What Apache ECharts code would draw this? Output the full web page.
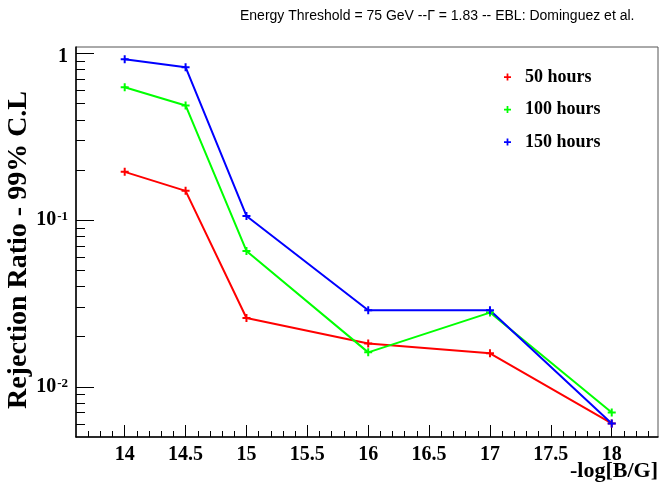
<!DOCTYPE html>
<html>
<head>
<meta charset="utf-8">
<script src="https://cdn.jsdelivr.net/npm/echarts@6/dist/echarts.min.js"></script>
<style>
  html, body { margin: 0; padding: 0; background: #fff; }
  #chart { width: 660px; height: 490px; }
</style>
</head>
<body>
<div id="chart"></div>
<script>
// -log[B/G] values at which the rejection ratio was evaluated
const magneticField = [14, 14.5, 15, 16, 17, 18];

// Rejection ratio at 99% C.L. for each observation time
const hours50  = [0.195, 0.150, 0.0259, 0.0182, 0.0159, 0.00603];
const hours100 = [0.628, 0.488, 0.0654, 0.0161, 0.0279, 0.00702];
const hours150 = [0.924, 0.828, 0.106, 0.0288, 0.0288, 0.00603];

const seriesNames = ['50 hours', '100 hours', '150 hours'];

// Axis ticks
const xMajorTicks = [14, 14.5, 15, 15.5, 16, 16.5, 17, 17.5, 18];
const yMajorTicks = [0.01, 0.1, 1];
const yMinorTicks = [0.006, 0.007, 0.008, 0.009,
                     0.02, 0.03, 0.04, 0.05, 0.06, 0.07, 0.08, 0.09,
                     0.2, 0.3, 0.4, 0.5, 0.6, 0.7, 0.8, 0.9];
const xMinorTicks = [];
for (let k = 137; k <= 183; k++) xMinorTicks.push(k / 10);

const X_MIN = 13.6, X_MAX = 18.38;
const Y_MIN = 0.005, Y_MAX = 1.095;

const serif = '"Liberation Serif", "Times New Roman", serif';
const sans = '"Liberation Sans", Arial, sans-serif';

const plus = 'path://M3,0H5V3H8V5H5V8H3V5H0V3H3Z';

const chart = echarts.init(document.getElementById('chart'), null, { renderer: 'canvas' });

function makeSeries(name, values, color) {
  return {
    name: name,
    type: 'line',
    xAxisIndex: 0,
    yAxisIndex: 0,
    data: magneticField.map((x, i) => [x, values[i]]),
    symbol: plus,
    symbolSize: 8,
    showAllSymbol: true,
    lineStyle: { color: color, width: 2 },
    itemStyle: { color: color },
    emphasis: { disabled: true },
    animation: false,
    z: 3
  };
}

function yLabel(v) {
  if (Math.abs(v - 1) < 1e-9) return '{one|1}';
  if (Math.abs(v - 0.1) < 1e-9) return '{b|10}{s|-1}';
  if (Math.abs(v - 0.01) < 1e-9) return '{b|10}{s|-2}';
  return '';
}

const option = {
  backgroundColor: '#ffffff',
  animation: false,
  title: {
    text: 'Energy Threshold = 75 GeV --\u0393 = 1.83 -- EBL: Dominguez et al.',
    left: 235,
    top: 4,
    textStyle: { fontFamily: sans, fontSize: 14, fontWeight: 'normal', color: '#000' }
  },
  legend: {
    orient: 'vertical',
    left: 499,
    top: 63,
    itemWidth: 7,
    itemHeight: 7,
    itemGap: 14.5,
    icon: plus,
    data: seriesNames,
    textStyle: { fontFamily: serif, fontSize: 18, fontWeight: 'bold', color: '#000', lineHeight: 18, padding: [0, 0, 0, 9] }
  },
  grid: {
    left: 76, top: 47, right: 2, bottom: 53,
    show: true,
    borderColor: '#555',
    borderWidth: 1,
    backgroundColor: 'transparent'
  },
  xAxis: [
    {
      type: 'value',
      min: X_MIN, max: X_MAX,
      position: 'bottom',
      axisLine: { show: true, onZero: false, lineStyle: { color: '#000', width: 1.5 } },
      axisTick: { show: true, inside: true, length: 12, customValues: xMajorTicks, lineStyle: { color: '#000', width: 1 } },
      axisLabel: {
        customValues: xMajorTicks,
        margin: 8,
        fontFamily: serif, fontSize: 20, fontWeight: 'bold', color: '#000',
        formatter: v => String(v)
      },
      splitLine: { show: false }
    },
    {
      type: 'value',
      min: X_MIN, max: X_MAX,
      position: 'bottom',
      axisLine: { show: false },
      axisTick: { show: true, inside: true, length: 6, customValues: xMinorTicks, lineStyle: { color: '#000', width: 1 } },
      axisLabel: { show: false },
      splitLine: { show: false }
    }
  ],
  yAxis: [
    {
      type: 'log',
      logBase: 10,
      min: Y_MIN, max: Y_MAX,
      position: 'left',
      axisLine: { show: true, onZero: false, lineStyle: { color: '#000', width: 1.5 } },
      axisTick: { show: true, inside: true, length: 18, customValues: yMajorTicks, lineStyle: { color: '#000', width: 1 } },
      axisLabel: {
        customValues: yMajorTicks,
        margin: 8,
        formatter: yLabel,
        rich: {
          one: { fontFamily: serif, fontSize: 20, fontWeight: 'bold', color: '#000', lineHeight: 20, padding: [6, 0, 0, 0] },
          b: { fontFamily: serif, fontSize: 20, fontWeight: 'bold', color: '#000', lineHeight: 20, verticalAlign: 'bottom' },
          s: { fontFamily: serif, fontSize: 13, fontWeight: 'bold', color: '#000', lineHeight: 13, verticalAlign: 'top', padding: [0, 0, 0, 1] }
        }
      },
      splitLine: { show: false }
    },
    {
      type: 'log',
      logBase: 10,
      min: Y_MIN, max: Y_MAX,
      position: 'left',
      axisLine: { show: false },
      axisTick: { show: true, inside: true, length: 9, customValues: yMinorTicks, lineStyle: { color: '#000', width: 1 } },
      axisLabel: { show: false },
      splitLine: { show: false }
    }
  ],
  graphic: [
    {
      type: 'text',
      x: 19, y: 250,
      rotation: Math.PI / 2,
      style: {
        text: 'Rejection Ratio - 99% C.L',
        fontFamily: serif, fontSize: 28, fontWeight: 'bold', fill: '#000',
        align: 'center', verticalAlign: 'middle'
      }
    },
    {
      type: 'text',
      x: 658, y: 471,
      style: {
        text: '-log[B/G]',
        fontFamily: serif, fontSize: 22, fontWeight: 'bold', fill: '#000',
        align: 'right', verticalAlign: 'middle'
      }
    }
  ],
  series: [
    makeSeries(seriesNames[0], hours50, '#ff0000'),
    makeSeries(seriesNames[1], hours100, '#00ff00'),
    makeSeries(seriesNames[2], hours150, '#0000ff')
  ]
};

chart.setOption(option);
</script>
</body>
</html>
